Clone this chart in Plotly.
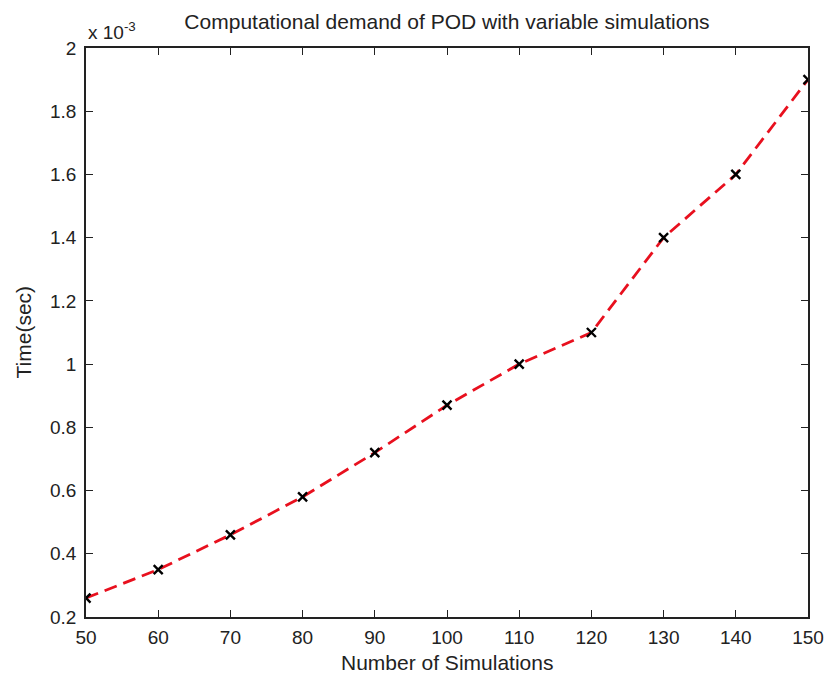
import plotly.graph_objects as go

simulations = [50, 60, 70, 80, 90, 100, 110, 120, 130, 140, 150]
time_e3 = [0.26, 0.35, 0.46, 0.58, 0.72, 0.87, 1.00, 1.10, 1.40, 1.60, 1.90]  # x 10^-3 sec
x_ticks = [50, 60, 70, 80, 90, 100, 110, 120, 130, 140, 150]
y_ticks = [0.2, 0.4, 0.6, 0.8, 1.0, 1.2, 1.4, 1.6, 1.8, 2.0]
y_tick_text = ["0.2", "0.4", "0.6", "0.8", "1", "1.2", "1.4", "1.6", "1.8", "2"]

font_family = "Liberation Sans, Arial, sans-serif"
txt = "#222"

L, R, T, B = 86, 808, 48, 617
W, H = 829, 680

fig = go.Figure()
fig.add_trace(go.Scatter(
    x=simulations, y=time_e3, mode="lines",
    line=dict(color="#e8101e", width=2.8, dash="13px,7px"),
    showlegend=False, hoverinfo="skip"))
fig.add_trace(go.Scatter(
    x=simulations, y=time_e3, mode="markers",
    marker=dict(symbol="x-thin", size=9, line=dict(color="black", width=2.4), color="black"),
    showlegend=False))

axis_common = dict(
    showgrid=False, zeroline=False, showline=True, linecolor="#222", linewidth=1.5,
    mirror="ticks", ticks="inside", ticklen=7, tickwidth=1.2, tickcolor="#222",
    tickfont=dict(family=font_family, size=19, color=txt), automargin=False,
)

fig.update_layout(
    width=W, height=H,
    paper_bgcolor="white", plot_bgcolor="white",
    margin=dict(l=L, r=W - R, t=T, b=H - B),
    title=dict(text="Computational demand of POD with variable simulations",
               x=(L + R) / 2 / W, xanchor="center", y=1 - 22 / H, yanchor="middle",
               font=dict(family=font_family, size=21, color=txt)),
    xaxis=dict(range=[50, 150], tickvals=x_ticks, ticklabelstandoff=2, **axis_common),
    yaxis=dict(range=[0.2, 2.0], tickvals=y_ticks, ticktext=y_tick_text,
               ticklabelstandoff=4, **axis_common),
    annotations=[
        dict(text="x 10<sup>-3</sup>", xref="paper", yref="paper",
             x=0.0, y=1.0, xanchor="left", yanchor="bottom", showarrow=False,
             yshift=3, font=dict(family=font_family, size=19, color=txt)),
        dict(text="Number of Simulations", xref="paper", yref="paper",
             x=0.5, y=0, yshift=-(662 - B), xanchor="center", yanchor="middle",
             showarrow=False, font=dict(family=font_family, size=21, color=txt)),
        dict(text="Time(sec)", xref="paper", yref="paper", textangle=-90,
             x=0, xshift=-(L - 23), y=0.5, xanchor="center", yanchor="middle",
             showarrow=False, font=dict(family=font_family, size=21, color=txt)),
    ],
)

fig.write_html("out.html", config={"displayModeBar": False},
               post_script="document.body.style.margin='0';document.body.style.overflow='hidden';")
